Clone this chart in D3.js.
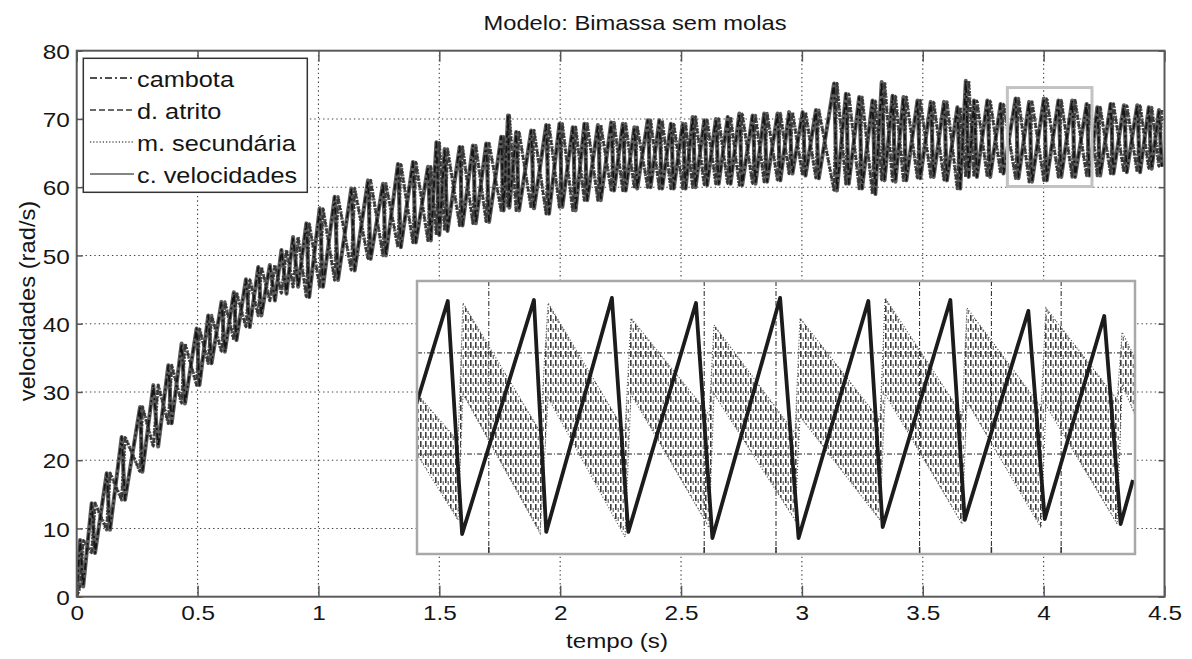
<!DOCTYPE html>
<html>
<head>
<meta charset="utf-8">
<script src="https://cdn.jsdelivr.net/npm/d3@7"></script>
<style>
  body { margin: 0; background: #fff; }
  text { font-family: "Liberation Sans", Arial, sans-serif; fill: #151515; }
</style>
</head>
<body>
<script>
// values (time in s, velocity in rad/s)
const xTicks = [0, 0.5, 1, 1.5, 2, 2.5, 3, 3.5, 4, 4.5];
const yTicks = [0, 10, 20, 30, 40, 50, 60, 70, 80];

const seriesNames = ["cambota", "d. atrito", "m. secundária", "c. velocidades"];

// cycle peaks of the crankshaft signal
const peakT = [0.014,0.062,0.124,0.186,0.262,0.317,0.379,0.434,0.496,0.544,0.599,0.650,0.700,
  0.751,0.799,0.847,0.895,0.950,1.005,1.067,1.136,1.205,1.267,1.329,1.391,1.453,1.488,
  1.522,1.584,1.639,1.694,1.756,1.784,1.818,1.880,1.942,1.997,2.052,2.100,2.156,2.211,2.259,2.307,2.362,2.410,2.458,2.507,2.548,2.596,2.644,2.693,2.741,2.796,2.844,2.899,2.947,
  3.003,3.058,3.133,3.182,3.237,3.292,3.330,3.375,3.420,3.478,3.533,3.588,3.643,3.678,3.712,3.767,3.822,3.884,3.940,4.001,4.061,4.118,4.178,4.222,4.277,4.332,4.387,4.435,4.477];
const peakV = [8.3,13.7,18.1,23.4,27.8,31.0,33.9,37.1,39.3,41.2,43.2,44.6,46.5,
  48.3,48.6,50.8,52.7,54.7,56.9,58.6,59.8,61.0,60.5,63.4,63.7,63.0,66.6,
  65.6,65.9,66.1,66.4,67.4,70.5,68.1,68.3,69.1,69.3,68.8,69.3,69.1,69.5,69.3,68.8,69.8,69.8,69.3,69.3,70.3,69.8,70.0,70.3,70.8,70.5,70.8,70.8,71.0,
  71.0,71.3,75.2,73.7,73.2,72.7,75.4,73.4,73.2,72.7,72.5,72.5,71.7,75.6,72.7,72.7,72.2,73.0,72.5,73.0,72.7,72.7,72.2,71.7,72.2,72.0,72.0,71.7,71.3];
// troughs right after each peak
const troughT = [0.027,0.076,0.138,0.200,0.272,0.337,0.393,0.448,0.508,0.558,0.613,0.661,0.716,
  0.764,0.820,0.868,0.916,0.962,1.019,1.081,1.150,1.216,1.279,1.341,1.403,1.465,1.500,
  1.534,1.596,1.651,1.706,1.766,1.790,1.830,1.892,1.954,2.009,2.064,2.112,2.168,2.223,2.271,2.319,2.374,2.422,2.470,2.519,2.560,2.608,2.656,2.705,2.753,2.808,2.856,2.911,2.961,
  3.015,3.070,3.145,3.194,3.249,3.304,3.342,3.387,3.432,3.490,3.545,3.600,3.655,3.690,3.724,3.779,3.834,3.896,3.952,4.013,4.073,4.130,4.190,4.234,4.289,4.344,4.399,4.447,4.489];
const troughV = [1.5,6.4,9.8,14.2,18.3,22.0,25.4,28.3,31.0,34.2,35.9,37.6,39.5,
  41.2,43.4,44.4,45.4,43.9,45.4,46.4,47.8,49.5,50.0,51.2,51.9,52.2,53.0,
  53.6,54.4,54.7,54.9,56.6,57.0,56.6,56.9,56.1,57.1,56.6,58.1,58.1,59.5,59.5,59.8,60.0,59.8,59.8,59.8,60.0,60.3,60.5,60.5,60.3,60.5,60.8,61.0,62.0,
  61.7,61.3,59.5,60.5,59.8,59.0,61.0,60.8,61.0,61.3,61.5,61.0,59.8,61.5,61.5,61.5,62.0,61.3,60.8,61.0,61.5,61.5,61.7,61.7,62.0,62.2,62.2,62.7,63.0];

// zoomed window (gray box) and the detail shown in the inset
const zoomWin = { t: [3.85, 4.2], v: [60.1, 74.6] };
const insetSawT = [3.850,3.865,3.872,3.907,3.913,3.945,3.953,3.986,3.994,4.027,4.036,4.070,4.077,4.110,4.117,4.148,4.156,4.185,4.193,4.199];
const insetSawV = [68.17,73.54,61.16,73.59,61.27,73.70,61.27,73.43,60.95,73.70,60.95,73.54,61.53,73.59,61.91,73.01,61.96,72.74,61.69,64.03];
const insetBandT = [3.8500,3.8700,3.8724,3.9100,3.9139,3.9514,3.9543,3.9924,3.9948,4.0343,4.0367,4.0757,4.0782,4.1157,4.1181,4.1542,4.1566,4.1913,4.1937,4.2000];
const insetBandHi = [68.60,66.10,73.43,66.60,73.43,66.60,72.63,67.50,72.26,66.50,72.63,67.20,73.70,67.50,73.17,67.90,73.17,68.30,71.89,70.51];
const insetBandLo = [65.40,61.90,68.60,61.20,68.40,61.00,68.60,61.50,68.60,61.90,67.40,61.90,68.60,61.70,68.20,61.50,68.00,61.70,69.10,67.50];
const insetGridT = [3.885, 3.990, 4.025, 4.095, 4.130, 4.164];
const insetGridV = [70.78, 65.41];

function main() {
  const W = 1192, H = 659;
  const plot = { left: 76.7, right: 1164.5, top: 50.7, bottom: 596.7 };
  const inset = { left: 417, right: 1135, top: 281, bottom: 554 };

  const svg = d3.select('body').append('svg')
    .attr('width', W)
    .attr('height', H);

  const x = d3.scaleLinear().domain([0, 4.5]).range([plot.left, plot.right]);
  const y = d3.scaleLinear().domain([0, 80]).range([plot.bottom, plot.top]);

  const defs = svg.append('defs');
  defs.append('clipPath').attr('id', 'plotClip')
    .append('rect')
      .attr('x', plot.left).attr('y', plot.top)
      .attr('width', plot.right - plot.left).attr('height', plot.bottom - plot.top);
  defs.append('clipPath').attr('id', 'insetClip')
    .append('rect')
      .attr('x', inset.left).attr('y', inset.top)
      .attr('width', inset.right - inset.left).attr('height', inset.bottom - inset.top);
  const pat = defs.append('pattern').attr('id', 'vdash')
    .attr('patternUnits', 'userSpaceOnUse')
    .attr('width', 5).attr('height', 9);
  pat.append('rect').attr('x', 0).attr('y', 0).attr('width', 1.6).attr('height', 6).attr('fill', '#3c3c3c');
  pat.append('rect').attr('x', 2.6).attr('y', 4).attr('width', 1.3).attr('height', 4).attr('fill', '#707070');

  // grid
  const grid = svg.append('g').attr('class', 'grid')
    .attr('stroke', '#444').attr('stroke-width', 1.1).attr('stroke-dasharray', '1.4,3');
  grid.selectAll('line.gx')
    .data(xTicks.filter(d => d > 0 && d < 4.5))
    .enter().append('line')
      .attr('class', 'gx')
      .attr('x1', d => x(d)).attr('x2', d => x(d))
      .attr('y1', plot.top).attr('y2', plot.bottom);
  grid.selectAll('line.gy')
    .data(yTicks.filter(d => d > 0 && d < 80))
    .enter().append('line')
      .attr('class', 'gy')
      .attr('x1', plot.left).attr('x2', plot.right)
      .attr('y1', d => y(d)).attr('y2', d => y(d));

  /* series: the crankshaft is a sawtooth through peaks and troughs,
   * the friction disc / secondary mass swing the other way */
  const sawPts = [{ t: 0, v: 0 }];
  const antiPts = [{ t: 0, v: 0 }];
  peakT.forEach((t, i) => {
    sawPts.push({ t: t, v: peakV[i] }, { t: troughT[i], v: troughV[i] });
    antiPts.push({ t: t, v: troughV[i] }, { t: troughT[i], v: peakV[i] });
  });

  const line = d3.line().x(d => x(d.t)).y(d => y(d.v));
  const data = svg.append('g').attr('clip-path', 'url(#plotClip)')
    .attr('fill', 'none').attr('stroke-linejoin', 'round');

  const styles = {
    "c. velocidades": { pts: sawPts, stroke: '#5c5c5c', width: 4, dash: null },
    "m. secundária": { pts: antiPts, stroke: '#555', width: 3.4, dash: '2,1.2' },
    "d. atrito": { pts: antiPts, stroke: '#383838', width: 2.2, dash: '5,3' },
    "cambota": { pts: sawPts, stroke: '#151515', width: 1.8, dash: '7,3,2,3' },
  };
  ["c. velocidades", "m. secundária", "d. atrito", "cambota"].forEach(name => {
    const s = styles[name];
    data.append('path')
      .datum(s.pts)
      .attr('d', line)
      .attr('stroke', s.stroke)
      .attr('stroke-width', s.width)
      .attr('stroke-dasharray', s.dash);
  });

  // gray box marking the zoomed window
  svg.append('rect')
    .attr('x', x(zoomWin.t[0])).attr('y', y(zoomWin.v[1]))
    .attr('width', x(zoomWin.t[1]) - x(zoomWin.t[0]))
    .attr('height', y(zoomWin.v[0]) - y(zoomWin.v[1]))
    .attr('fill', 'none').attr('stroke', '#c2c2c2').attr('stroke-width', 3);

  // inset with the detail
  const ix = d3.scaleLinear().domain(zoomWin.t).range([inset.left, inset.right]);
  const iy = d3.scaleLinear().domain(zoomWin.v).range([inset.bottom, inset.top]);
  const ins = svg.append('g').attr('class', 'inset');
  ins.append('rect')
    .attr('x', inset.left).attr('y', inset.top)
    .attr('width', inset.right - inset.left).attr('height', inset.bottom - inset.top)
    .attr('fill', '#fff');
  const inner = ins.append('g').attr('clip-path', 'url(#insetClip)');
  const ig = inner.append('g')
    .attr('stroke', '#222').attr('stroke-width', 1).attr('stroke-dasharray', '5,2,1,2');
  ig.selectAll('line.ix')
    .data(insetGridT)
    .enter().append('line')
      .attr('x1', d => ix(d)).attr('x2', d => ix(d))
      .attr('y1', inset.top).attr('y2', inset.bottom);
  ig.selectAll('line.iy')
    .data(insetGridV)
    .enter().append('line')
      .attr('x1', inset.left).attr('x2', inset.right)
      .attr('y1', d => iy(d)).attr('y2', d => iy(d));
  inner.selectAll('line.itick')
    .data(insetGridT)
    .enter().append('line')
      .attr('x1', d => ix(d)).attr('x2', d => ix(d))
      .attr('y1', inset.bottom).attr('y2', inset.bottom - 7)
      .attr('stroke', '#333').attr('stroke-width', 1.5);

  const band = insetBandT.map((t, i) => ({ t: t, hi: insetBandHi[i], lo: insetBandLo[i] }));
  inner.append('path')
    .datum(band)
    .attr('d', d3.area().x(d => ix(d.t)).y0(d => iy(d.lo)).y1(d => iy(d.hi)))
    .attr('fill', 'url(#vdash)');
  ['hi', 'lo'].forEach(k => {
    inner.append('path')
      .datum(band)
      .attr('d', d3.line().x(d => ix(d.t)).y(d => iy(d[k])))
      .attr('fill', 'none').attr('stroke', '#555').attr('stroke-width', 1.2)
      .attr('stroke-dasharray', '1,2');
  });
  inner.append('path')
    .datum(insetSawT.map((t, i) => ({ t: t, v: insetSawV[i] })))
    .attr('d', d3.line().x(d => ix(d.t)).y(d => iy(d.v)))
    .attr('fill', 'none').attr('stroke', '#1c1c1c').attr('stroke-width', 3.8)
    .attr('stroke-linejoin', 'round');
  ins.append('rect')
    .attr('x', inset.left).attr('y', inset.top)
    .attr('width', inset.right - inset.left).attr('height', inset.bottom - inset.top)
    .attr('fill', 'none').attr('stroke', '#a8a8a8').attr('stroke-width', 2.5);

  // axes (MATLAB style: ticks inside, on all four sides)
  const fmt = d3.format('~g');
  const axStyle = g => {
    g.select('.domain').remove();
    g.selectAll('.tick line').attr('stroke', '#555').attr('stroke-width', 1.5);
    g.selectAll('.tick text').style('font-size', '21px').attr('fill', '#151515')
      .style('font-family', '"Liberation Sans", Arial, sans-serif');
  };
  svg.append('g').attr('transform', `translate(0,${plot.bottom})`)
    .call(d3.axisBottom(x).tickValues(xTicks).tickFormat(fmt).tickSizeInner(-11).tickSizeOuter(0).tickPadding(8.5))
    .call(axStyle)
    .selectAll('.tick text').attr('transform', 'scale(1.16,1)');
  svg.append('g').attr('transform', `translate(0,${plot.top})`)
    .call(d3.axisTop(x).tickValues(xTicks).tickFormat('').tickSizeInner(-11).tickSizeOuter(0))
    .call(axStyle);
  svg.append('g').attr('transform', `translate(${plot.left},0)`)
    .call(d3.axisLeft(y).tickValues(yTicks).tickFormat(fmt).tickSizeInner(-6).tickSizeOuter(0).tickPadding(6))
    .call(axStyle)
    .selectAll('.tick text').attr('transform', 'scale(1.16,1)').attr('dy', '0.36em');
  svg.append('g').attr('transform', `translate(${plot.right},0)`)
    .call(d3.axisRight(y).tickValues(yTicks).tickFormat('').tickSizeInner(-6).tickSizeOuter(0))
    .call(axStyle);

  svg.append('rect')
    .attr('x', plot.left).attr('y', plot.top)
    .attr('width', plot.right - plot.left).attr('height', plot.bottom - plot.top)
    .attr('fill', 'none').attr('stroke', '#5a5a5a').attr('stroke-width', 2);

  // titles
  svg.append('text')
    .attr('transform', 'translate(635,30) scale(1.13,1)')
    .attr('text-anchor', 'middle').style('font-size', '21px')
    .text('Modelo: Bimassa sem molas');
  svg.append('text')
    .attr('transform', 'translate(617,648) scale(1.15,1)')
    .attr('text-anchor', 'middle').style('font-size', '21px')
    .text('tempo (s)');
  svg.append('text')
    .attr('transform', 'translate(35,301) rotate(-90) scale(1.08,1)')
    .attr('text-anchor', 'middle').style('font-size', '22px')
    .text('velocidades (rad/s)');

  // legend
  const legend = svg.append('g').attr('class', 'legend');
  legend.append('rect')
    .attr('x', 83.3).attr('y', 58.3).attr('width', 224).attr('height', 134)
    .attr('fill', '#fff').attr('stroke', '#333').attr('stroke-width', 1.5);
  const rowY = d3.scalePoint().domain(seriesNames).range([78, 174]);
  const rows = legend.selectAll('g.row')
    .data(seriesNames)
    .enter().append('g')
      .attr('class', 'row')
      .attr('transform', d => `translate(0,${rowY(d)})`);
  rows.append('line')
    .attr('x1', 90).attr('x2', 134).attr('y1', 0).attr('y2', 0)
    .attr('stroke', d => styles[d].stroke)
    .attr('stroke-width', 1.6)
    .attr('stroke-dasharray', d => ({ "cambota": '7,3,2,3', "d. atrito": '6,3', "m. secundária": '1.2,2', "c. velocidades": null })[d]);
  rows.append('text')
    .attr('transform', 'translate(137,8.8) scale(1.15,1)')
    .style('font-size', '22px')
    .text(d => d);
}

main();
</script>
</body>
</html>
